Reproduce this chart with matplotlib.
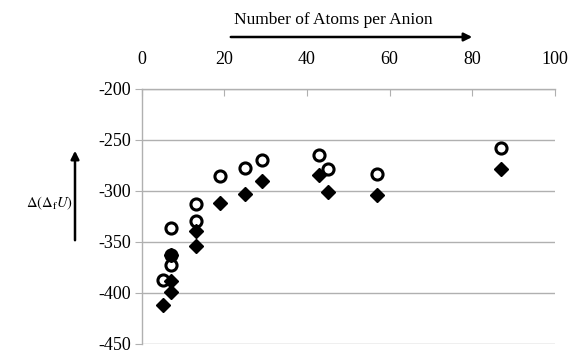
import numpy as np
import matplotlib
matplotlib.use("Agg")
import matplotlib.pyplot as plt

# Werte
atome_kreis = [5, 7, 7, 7, 13, 13, 19, 25, 29, 43, 45, 57, 87]
wert_kreis = [-387, -336, -373, -363, -313, -329, -285, -277, -270, -265, -278, -283, -258]

atome_raute = [5, 7, 7, 7, 13, 13, 19, 25, 29, 43, 45, 57, 87]
wert_raute = [-412, -363, -388, -399, -339, -354, -312, -303, -290, -284, -301, -304, -278]

x_ticks = [0, 20, 40, 60, 80, 100]
y_ticks = [-200, -250, -300, -350, -400, -450]

plt.rcParams['font.family'] = ['Liberation Serif', 'DejaVu Serif']
plt.rcParams['mathtext.fontset'] = 'stix'
plt.rcParams['axes.unicode_minus'] = False

fig = plt.figure(figsize=(5.72, 3.53), dpi=100)
ax = fig.add_axes([0.248, 0.0255, 0.722, 0.7225])

ax.set_xlim(0, 100)
ax.set_ylim(-450, -200)

grau = '#b0b0b0'
for y in y_ticks:
    ax.axhline(y, color=grau, lw=1.0, zorder=0)

ax.plot(atome_kreis, wert_kreis, 'o', ms=8, mfc='white', mec='black', mew=2.2, zorder=3)
ax.plot(atome_raute, wert_raute, 'D', ms=7, mfc='black', mec='black', zorder=4)

for s in ['bottom', 'right']:
    ax.spines[s].set_visible(False)
for s in ['top', 'left']:
    ax.spines[s].set_color(grau)
    ax.spines[s].set_linewidth(1.0)

ax.xaxis.tick_top()
ax.set_xticks(x_ticks)
ax.set_yticks(y_ticks)
ax.tick_params(axis='x', direction='in', length=5, color=grau, pad=15, labelsize=13)
ax.tick_params(axis='y', direction='out', length=5, color=grau, pad=3, labelsize=13)

# Achsenbeschriftungen mit Pfeilen
fig.text(333 / 572, 1 - 20 / 353, 'Number of Atoms per Anion', ha='center', va='center', fontsize=12.5)
fig.add_artist(matplotlib.patches.FancyArrowPatch(
    (228 / 572, 1 - 37 / 353), (475 / 572, 1 - 37 / 353),
    transform=fig.transFigure, arrowstyle='-|>', mutation_scale=12, lw=1.8, color='black'))

fig.text(50 / 572, 1 - 203 / 353, r'$\Delta(\Delta_{\mathrm{f}}U)$', ha='center', va='center', fontsize=10.5)
fig.add_artist(matplotlib.patches.FancyArrowPatch(
    (75 / 572, 1 - 243 / 353), (75 / 572, 1 - 148 / 353),
    transform=fig.transFigure, arrowstyle='-|>', mutation_scale=12, lw=1.8, color='black'))

fig.savefig('out.png', dpi=100)
